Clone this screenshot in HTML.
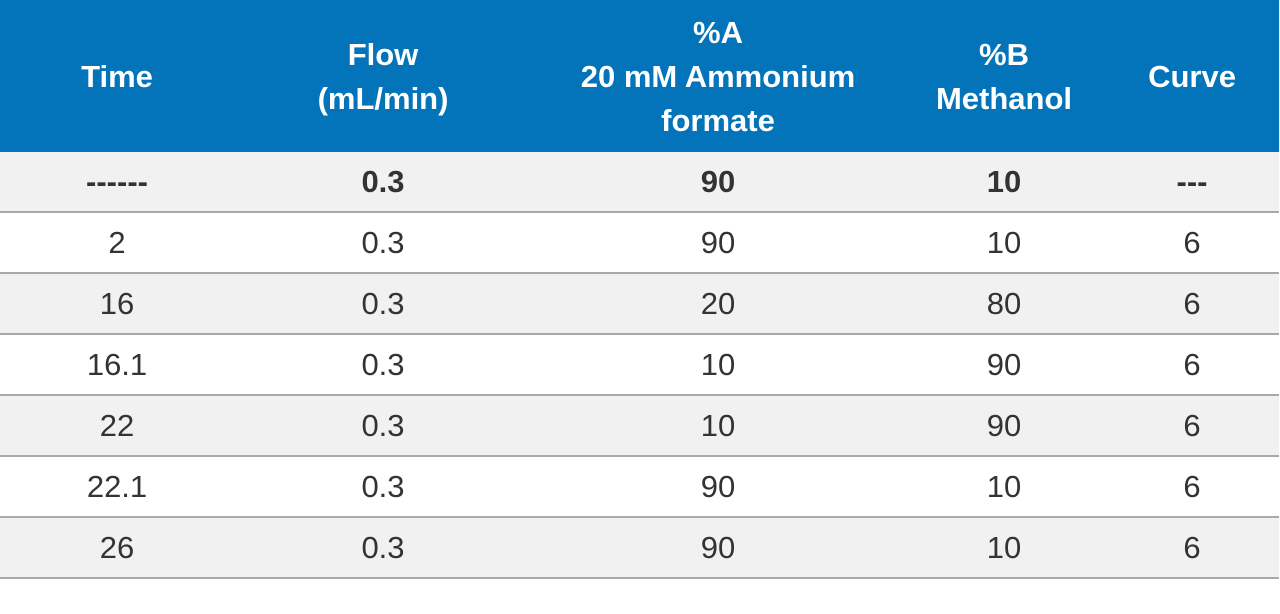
<!DOCTYPE html>
<html><head><meta charset="utf-8"><style>
body{margin:0;width:1280px;height:614px;background:#fff;font-family:"Liberation Sans",sans-serif;overflow:hidden;position:relative}
.hdr{position:absolute;left:0;top:0;width:1279px;height:152px;background:#0373ba}
.h{position:absolute;color:#fff;font-weight:bold;font-size:31px;line-height:44px;text-align:center;transform:translateX(-50%);white-space:nowrap}
.row{position:absolute;left:0;width:1279px;height:59px;border-bottom:2px solid #a9a9a9}
.c{position:absolute;top:0;line-height:60px;font-size:31px;color:#333;transform:translateX(-50%);white-space:nowrap}
.b{font-weight:bold}
</style></head><body>
<div class="hdr">
<div class="h" style="left:117px;top:55px">Time</div>
<div class="h" style="left:383px;top:33px">Flow<br>(mL/min)</div>
<div class="h" style="left:718px;top:11px">%A<br>20 mM Ammonium<br>formate</div>
<div class="h" style="left:1004px;top:33px">%B<br>Methanol</div>
<div class="h" style="left:1192px;top:55px">Curve</div>
</div>
<div id="rows"></div>
<script>
const times=["------","2","16","16.1","22","22.1","26"];
const flows=["0.3","0.3","0.3","0.3","0.3","0.3","0.3"];
const pa=["90","90","20","10","10","90","90"];
const pb=["10","10","80","90","90","10","10"];
const curves=["---","6","6","6","6","6","6"];
const xs=[117,383,718,1004,1192];
const host=document.getElementById('rows');
for(let i=0;i<times.length;i++){
 const r=document.createElement('div');
 r.className='row';
 
 
 r.style.top=(152+i*61)+'px';
 r.style.background=i%2==0?'#f1f1f1':'#fff';
 const vals=[times[i],flows[i],pa[i],pb[i],curves[i]];
 vals.forEach((v,j)=>{
  const c=document.createElement('div');
  c.className='c'+(i==0?' b':'');
  
  
  c.style.left=xs[j]+'px';
  c.textContent=v;
  r.appendChild(c);
 });
 host.appendChild(r);
}
</script>
</body></html>
